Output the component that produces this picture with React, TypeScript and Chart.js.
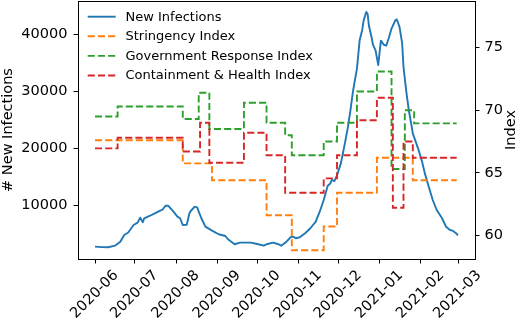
import { useEffect, useRef } from "react";
import { Chart, registerables } from "chart.js";

Chart.register(...registerables);

// Days counted from 2020-06-01
const monthTickDays = [0, 30, 61, 92, 122, 153, 183, 214, 245, 273];
const monthTickLabels = [
  "2020-06", "2020-07", "2020-08", "2020-09", "2020-10",
  "2020-11", "2020-12", "2021-01", "2021-02", "2021-03",
];
const leftTicks = [10000, 20000, 30000, 40000];
const rightTicks = [60, 65, 70, 75];

const infectionDays = [
  0, 5, 10, 15, 19, 22, 25, 29, 32, 34, 36, 37, 41, 45, 49, 51, 53, 55, 59, 62,
  64, 66, 69, 71, 72, 75, 77, 78, 80, 83, 88, 93, 98, 100, 105, 109, 117, 122, 127, 129,
  134, 138, 140, 144, 147, 149, 151, 154, 158, 162, 166, 169, 172, 175, 177, 178, 180, 182, 185, 188,
  190, 192, 194, 197, 199, 201, 202, 204, 205, 206, 208, 209, 211, 213, 215, 217, 219, 221, 223, 226,
  227, 229, 231, 232, 234, 236, 238, 239, 243, 246, 248, 251, 254, 257, 261, 264, 267, 269, 271, 273,
];
const infectionValues = [
  2830, 2750, 2730, 3000, 3700, 4880, 5300, 6620, 7030, 7900, 7100, 7800, 8200, 8670, 9120, 9370, 10000, 10000, 8950, 8080,
  7800, 6620, 6650, 8670, 9070, 9820, 9650, 8950, 7800, 6330, 5630, 5000, 4700, 4130, 3250, 3530, 3530, 3300, 3000, 3250,
  3530, 3250, 3000, 3700, 4470, 4580, 4300, 4470, 5170, 6050, 7200, 8950, 11000, 13500, 13900, 14500, 14300, 15300, 17500, 21000,
  23500, 26500, 30000, 34000, 38900, 40800, 42400, 43900, 43600, 41500, 39500, 38200, 37200, 34600, 38900, 38200, 38000, 39400, 41000, 42500,
  42600, 41300, 38400, 34300, 30200, 26700, 24100, 22650, 20000, 17700, 15700, 13300, 11000, 9250, 7800, 6330, 5750, 5630, 5280, 4820,
];

const stringencyDays = [0, 66, 88, 129, 148, 172, 182, 212, 239, 272];
const stringencyValues = [67.6, 65.75, 64.4, 61.6, 58.8, 60.7, 63.4, 66.2, 64.4, 64.4];

const governmentDays = [0, 17, 66, 78, 86, 112, 129, 143, 148, 172, 182, 197, 212, 223, 233, 240, 272];
const governmentValues = [69.5, 70.3, 69.3, 71.4, 68.5, 70.6, 69.0, 68.0, 66.4, 67.5, 69.0, 71.5, 73.1, 65.3, 70.0, 68.95, 68.95];

const containmentDays = [0, 17, 66, 79, 86, 112, 129, 143, 172, 182, 197, 212, 224, 232, 239, 272];
const containmentValues = [66.95, 67.8, 66.7, 69.0, 65.8, 68.2, 66.4, 63.4, 64.55, 66.4, 69.2, 71.0, 62.2, 67.5, 66.2, 66.2];

const seriesLabels = ["New Infections", "Stringency Index", "Government Response Index", "Containment & Health Index"];
const seriesColors = ["#1f77b4", "#ff7f0e", "#2ca02c", "#d62728"];

const FONT = "'DejaVu Sans', sans-serif";
const LINE_W = 1.9;
const DASH = [7.1, 3.1];

const zip = (xs: number[], ys: number[]) => xs.map((x, i) => ({ x, y: ys[i] }));

const decorPlugin = {
  id: "decor",
  afterDraw(chart: any) {
    const { ctx, chartArea: a } = chart;
    ctx.save();
    // top spine
    ctx.strokeStyle = "#000";
    ctx.lineWidth = 1;
    ctx.beginPath();
    ctx.moveTo(a.left, a.top + 0.5);
    ctx.lineTo(a.right, a.top + 0.5);
    ctx.stroke();

    // axis titles
    ctx.fillStyle = "#000";
    ctx.font = `14.5px ${FONT}`;
    ctx.textAlign = "center";
    ctx.textBaseline = "middle";
    const midY = (a.top + a.bottom) / 2;
    ctx.save();
    ctx.translate(8.5, midY);
    ctx.rotate(-Math.PI / 2);
    ctx.fillText("# New Infections", 0, 0);
    ctx.restore();
    ctx.save();
    ctx.translate(511.5, midY);
    ctx.rotate(-Math.PI / 2);
    ctx.fillText("Index", 0, 0);
    ctx.restore();

    // legend
    const ds = chart.data.datasets;
    ctx.font = `13px ${FONT}`;
    ctx.textAlign = "left";
    ds.forEach((d: any, i: number) => {
      const y = a.top + 15.7 + i * 19.6;
      ctx.beginPath();
      ctx.strokeStyle = d.borderColor;
      ctx.lineWidth = d.borderWidth;
      ctx.setLineDash(d.borderDash || []);
      ctx.moveTo(87.7, y);
      ctx.lineTo(115.7, y);
      ctx.stroke();
      ctx.setLineDash([]);
      ctx.fillStyle = "#000";
      ctx.fillText(d.label, 125.5, y + 0.5);
    });
    ctx.restore();
  },
};

export default function App() {
  const ref = useRef<HTMLCanvasElement>(null);
  useEffect(() => {
    document.body.style.margin = "0";
    const canvas = ref.current!;
    const tickFont = { family: FONT, size: 14.5 };
    const gridOpts = {
      drawOnChartArea: false,
      drawTicks: true,
      tickLength: 4.5,
      color: "#000",
      lineWidth: 1,
    };
    const chart = new Chart(canvas, {
      type: "line",
      data: {
        datasets: [
          {
            label: seriesLabels[0],
            data: zip(infectionDays, infectionValues),
            borderColor: seriesColors[0],
            borderWidth: LINE_W,
            pointRadius: 0,
            tension: 0,
            borderJoinStyle: "round",
            yAxisID: "y",
            order: 4,
          },
          {
            label: seriesLabels[1],
            data: zip(stringencyDays, stringencyValues),
            borderColor: seriesColors[1],
            borderWidth: LINE_W,
            borderDash: DASH,
            pointRadius: 0,
            stepped: true,
            yAxisID: "y1",
            order: 3,
          },
          {
            label: seriesLabels[2],
            data: zip(governmentDays, governmentValues),
            borderColor: seriesColors[2],
            borderWidth: LINE_W,
            borderDash: DASH,
            pointRadius: 0,
            stepped: true,
            yAxisID: "y1",
            order: 2,
          },
          {
            label: seriesLabels[3],
            data: zip(containmentDays, containmentValues),
            borderColor: seriesColors[3],
            borderWidth: LINE_W,
            borderDash: DASH,
            pointRadius: 0,
            stepped: true,
            yAxisID: "y1",
            order: 1,
          },
        ],
      },
      options: {
        animation: false,
        responsive: false,
        layout: { padding: { top: 1, left: 0, right: 0, bottom: 0 } },
        plugins: { legend: { display: false }, tooltip: { enabled: false } },
        scales: {
          x: {
            type: "linear",
            min: -12.79,
            max: 285.78,
            grid: gridOpts,
            border: { display: true, color: "#000", width: 1 },
            afterBuildTicks: (s: any) => {
              s.ticks = monthTickDays.map((v) => ({ value: v }));
            },
            afterFit: (s: any) => {
              s.height = 62;
              s.paddingLeft = 0;
              s.paddingRight = 0;
            },
            ticks: {
              font: tickFont,
              color: "#000",
              minRotation: 45,
              maxRotation: 45,
              autoSkip: false,
              padding: 3.5,
              labelOffset: 21,
              callback: (v: any) => {
                const i = monthTickDays.indexOf(Number(v));
                return i >= 0 ? monthTickLabels[i] : "";
              },
            },
          },
          y: {
            type: "linear",
            position: "left",
            min: 670,
            max: 45830,
            grid: gridOpts,
            border: { display: true, color: "#000", width: 1 },
            afterBuildTicks: (s: any) => {
              s.ticks = leftTicks.map((v) => ({ value: v }));
            },
            afterFit: (s: any) => {
              s.width = 78;
              s.paddingTop = 0;
              s.paddingBottom = 0;
            },
            ticks: {
              font: tickFont,
              color: "#000",
              padding: 6,
              callback: (v: any) => String(v),
            },
          },
          y1: {
            type: "linear",
            position: "right",
            min: 58.105,
            max: 78.73,
            grid: gridOpts,
            border: { display: true, color: "#000", width: 1 },
            afterBuildTicks: (s: any) => {
              s.ticks = rightTicks.map((v) => ({ value: v }));
            },
            afterFit: (s: any) => {
              s.width = 45;
              s.paddingTop = 0;
              s.paddingBottom = 0;
            },
            ticks: {
              font: tickFont,
              color: "#000",
              padding: 5,
              callback: (v: any) => String(v),
            },
          },
        },
      },
      plugins: [decorPlugin],
    } as any);
    return () => chart.destroy();
  }, []);
  return (
    <div style={{ width: 520, height: 321 }}>
      <canvas ref={ref} width={520} height={321} style={{ display: "block" }} />
    </div>
  );
}
